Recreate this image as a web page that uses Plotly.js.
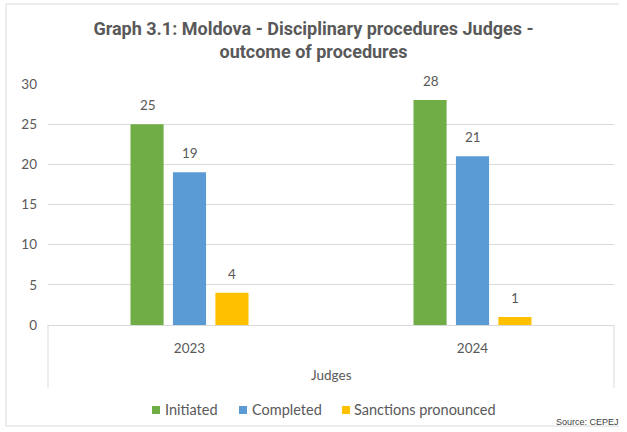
<!DOCTYPE html>
<html>
<head>
<meta charset="utf-8">
<script src="https://cdn.plot.ly/plotly-3.0.1.min.js"></script>
<style>html,body{margin:0;padding:0;background:#fff;}#chart{width:627px;height:432px;}</style>
</head>
<body>
<div id="chart"></div>
<script>
var categories = ["2023", "2024"];
var seriesNames = ["Initiated", "Completed", "Sanctions pronounced"];
var initiated = [25, 28];
var completed = [19, 21];
var sanctions = [4, 1];
var yTicks = [0, 5, 10, 15, 20, 25, 30];
var outerLabel = "Judges";
var titleText = "Graph 3.1: Moldova - Disciplinary procedures Judges -<br>outcome of procedures";
var sourceText = "Source: CEPEJ";

var colors = ["#70AD47", "#5B9BD5", "#FFC000"];
var values = [initiated, completed, sanctions];
var textGray = "#595959";
var tickFont = {family: "Lato, 'Open Sans', sans-serif", size: 13.5, color: textGray};
var legendFont = {family: "Lato, 'Open Sans', sans-serif", size: 14.5, color: textGray};

var data = values.map(function (v, i) {
  return {
    type: "bar",
    name: seriesNames[i],
    x: categories,
    y: v,
    marker: {color: colors[i]},
    hoverinfo: "skip",
    showlegend: false
  };
});

var H = 241; // plot height in px for paper conversion
function py(px) { return (325 - px) / H; }
function pxX(px) { return (px - 48) / 566; }

var annotations = [];
var shapes = [];

// data labels above bars (x given as category index)
values.forEach(function (v, i) {
  v.forEach(function (val, j) {
    annotations.push({
      text: String(val), xref: "x", yref: "y", x: j, y: val,
      xshift: (i - 1) * 42, yshift: 9, yanchor: "bottom", xanchor: "center",
      showarrow: false, font: tickFont
    });
  });
});

// custom legend
var legendSquareX = [152, 239, 342];
var legendTextX = [163, 250, 352];
seriesNames.forEach(function (name, i) {
  shapes.push({type: "rect", xref: "paper", yref: "paper",
    x0: pxX(legendSquareX[i]), x1: pxX(legendSquareX[i] + 8),
    y0: py(406), y1: py(414), fillcolor: colors[i], line: {width: 0}});
  annotations.push({text: name, xref: "paper", yref: "paper",
    x: pxX(legendTextX[i]), y: py(409.5), xanchor: "left", yanchor: "middle",
    showarrow: false, font: legendFont});
});

annotations.push({text: outerLabel, xref: "paper", yref: "paper", x: 0.5, y: py(375), xanchor: "center", yanchor: "middle", showarrow: false, font: tickFont});
annotations.push({text: sourceText, xref: "paper", yref: "paper", x: pxX(621), y: py(422), xanchor: "right", yanchor: "middle", showarrow: false, font: {family: "'Liberation Sans', Arial, sans-serif", size: 9, color: "#404040"}});

var gridLine = {color: "#D9D9D9", width: 1};
shapes.push(
  {type: "line", xref: "paper", yref: "paper", x0: 0, x1: 0, y0: 0, y1: py(388), line: gridLine},
  {type: "line", xref: "paper", yref: "paper", x0: 1, x1: 1, y0: 0, y1: py(388), line: gridLine},
  {type: "line", xref: "paper", yref: "paper", x0: pxX(6), x1: pxX(6), y0: py(4), y1: py(426), line: gridLine},
  {type: "line", xref: "paper", yref: "paper", x0: pxX(6), x1: pxX(619), y0: py(4), y1: py(4), line: gridLine},
  {type: "line", xref: "paper", yref: "paper", x0: pxX(6), x1: pxX(619), y0: py(426), y1: py(426), line: gridLine}
);

var layout = {
  width: 627,
  height: 432,
  margin: {l: 48, r: 13, t: 84, b: 107, autoexpand: false},
  paper_bgcolor: "#ffffff",
  plot_bgcolor: "#ffffff",
  showlegend: false,
  barmode: "group",
  bargap: 0.55,
  bargroupgap: 0.22,
  title: {
    text: titleText,
    font: {family: "Roboto, sans-serif", size: 18, color: textGray, weight: "bold"},
    x: 0.5,
    xanchor: "center",
    yref: "container",
    y: 1 - 35 / 432,
    yanchor: "top"
  },
  xaxis: {
    type: "category",
    range: [-0.5, 1.5],
    showgrid: false,
    showline: true,
    linecolor: "#D9D9D9",
    linewidth: 1,
    ticks: "",
    tickfont: tickFont,
    ticklabelstandoff: 11,
    fixedrange: true
  },
  yaxis: {
    range: [0, 30],
    tickvals: yTicks,
    showgrid: true,
    gridcolor: "#D9D9D9",
    gridwidth: 1,
    zeroline: false,
    showline: false,
    ticks: "",
    tickfont: tickFont,
    ticklabelstandoff: 10,
    fixedrange: true
  },
  annotations: annotations,
  shapes: shapes
};

Plotly.newPlot("chart", data, layout, {displayModeBar: false, staticPlot: true});
</script>
</body>
</html>
